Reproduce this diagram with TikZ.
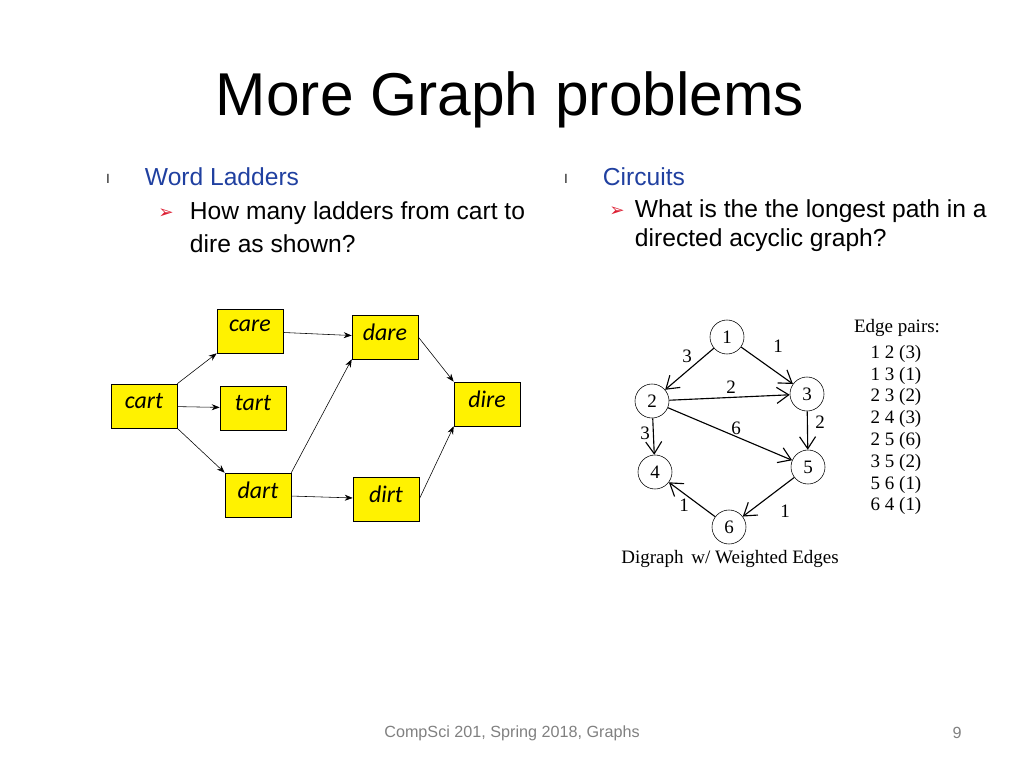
\documentclass[tikz,border=0pt]{standalone}
\usepackage{fontspec}
\setmainfont{Liberation Sans}
\newfontfamily\boxfont{Carlito}
\newfontfamily\serfont{Liberation Serif}
\newfontfamily\symfont{DejaVu Sans}
\usetikzlibrary{arrows.meta}
\definecolor{headblue}{RGB}{32,64,160}
\definecolor{bulletred}{RGB}{220,30,50}
\tikzset{
  word/.style={draw=black,fill=yellow,minimum width=1.65cm,minimum height=1.1cm,
    inner sep=0pt,font=\boxfont\itshape\fontsize{17}{19}\selectfont,text depth=7pt},
  vert/.style={draw,circle,minimum size=0.85cm,inner sep=0pt,font=\serfont\fontsize{13.5}{15}\selectfont},
  wt/.style={font=\serfont\fontsize{13.5}{15}\selectfont},
  ladder/.style={-{Stealth[length=2mm]},thin},
  darc/.style={-{Straight Barb[length=3mm,width=4mm]},thick}
}
\begin{document}
\begin{tikzpicture}[x=0.025cm,y=-0.025cm]
\useasboundingbox (0,0) rectangle (1024,768);
% heading and bullets
\node[anchor=west,font=\fontsize{43}{49}\selectfont] (title) at (211,100) {More Graph problems};
\node[font=\fontsize{9}{10}\selectfont] (b1) at (108,179) {l};
\node[anchor=west,text=headblue,font=\fontsize{17.5}{20}\selectfont] (wl) at (140,177) {Word Ladders};
\node[text=bulletred,font=\symfont\fontsize{13}{14}\selectfont] (a1) at (166,214) {➢};
\node[anchor=west,font=\fontsize{17.5}{20}\selectfont] (q1a) at (185,213) {How many ladders from cart to};
\node[anchor=west,font=\fontsize{17.5}{20}\selectfont] (q1b) at (185,244) {dire as shown?};
\node[font=\fontsize{9}{10}\selectfont] (b2) at (566,179) {l};
\node[anchor=west,text=headblue,font=\fontsize{17.5}{20}\selectfont] (ci) at (598,177) {Circuits};
\node[text=bulletred,font=\symfont\fontsize{13}{14}\selectfont] (a2) at (617,212) {➢};
\node[anchor=west,font=\fontsize{17.5}{20}\selectfont] (q2a) at (630,211) {What is the the longest path in a};
\node[anchor=west,font=\fontsize{17.5}{20}\selectfont] (q2b) at (630,240) {directed acyclic graph?};

% word ladder
\node[word] (care) at (250,331) {care};
\node[word] (dare) at (385,337) {dare};
\node[word] (cart) at (144,406) {cart};
\node[word] (tart) at (253,408) {tart};
\node[word] (dire) at (487,404) {dire};
\node[word] (dart) at (258,495) {dart};
\node[word] (dirt) at (386,499) {dirt};
\draw[ladder] (cart.north east) -- (care.south west);
\draw[ladder] (cart) -- (tart);
\draw[ladder] (cart.south east) -- (dart.north west);
\draw[ladder] (care) -- (dare);
\draw[ladder] (dart) -- (dirt);
\draw[ladder] (dart.north east) -- (dare.south west);
\draw[ladder] (dare.east) -- (dire.north west);
\draw[ladder] (dirt.east) -- (dire.south west);

% digraph
\node[vert] (v1) at (727,337) {1};
\node[vert] (v2) at (652,401) {2};
\node[vert] (v3) at (807,394) {3};
\node[vert] (v4) at (655,472) {4};
\node[vert] (v5) at (808,467) {5};
\node[vert] (v6) at (729,527) {6};
\draw[darc] (v1) -- (v2);
\draw[darc] (v1) -- (v3);
\draw[darc] (v2) -- (v3);
\draw[darc] (v2) -- (v4);
\draw[darc] (v2) -- (v5);
\draw[darc] (v3) -- (v5);
\draw[darc] (v5) -- (v6);
\draw[darc] (v6) -- (v4);
\node[wt] (w12) at (687,356) {3};
\node[wt] (w13) at (778,346) {1};
\node[wt] (w23) at (731,387) {2};
\node[wt] (w25) at (736,428) {6};
\node[wt] (w35) at (820,422) {2};
\node[wt] (w24) at (645,433) {3};
\node[wt] (w64) at (684,505) {1};
\node[wt] (w56) at (785,511) {1};
\node[wt] (cap) at (730,559) {Digraph\,\ w/\ Weighted Edges};
\node[wt] (ep) at (897,328) {Edge pairs:};
\foreach \t [count=\i] in {1 2 (3),1 3 (1),2 3 (2),2 4 (3),2 5 (6),3 5 (2),5 6 (1),6 4 (1)}
  \node[wt] (ep\i) at (896,332+21.8*\i) {\t};

% footer
\node[text=gray,font=\fontsize{11.5}{13}\selectfont] (foot) at (512,733) {CompSci 201, Spring 2018, Graphs};
\node[text=gray,font=\fontsize{11.5}{13}\selectfont] (pg) at (957,733) {9};
\end{tikzpicture}
\end{document}
